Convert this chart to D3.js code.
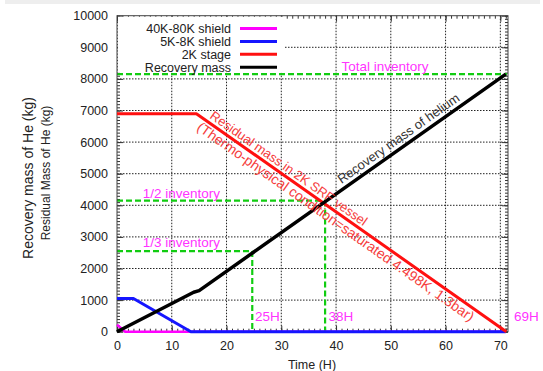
<!DOCTYPE html>
<html>
<head>
<meta charset="utf-8">
<script src="https://cdn.jsdelivr.net/npm/d3@7"></script>
<style>
  body { margin: 0; background: #fff; }
  svg { display: block; font-family: "Liberation Sans", Arial, sans-serif; }
</style>
</head>
<body>
<div id="chart"></div>
<script>
// --- data ---
const seriesNames = ["40K-80K shield", "5K-8K shield", "2K stage", "Recovery mass"];
const seriesColors = ["#ff00ff", "#1515ff", "#ff1010", "#000000"];

const shieldTime = [0, 1.5, 71];
const shieldMass = [220, 0, 0];
const lowShieldTime = [0, 3, 13.5, 71];
const lowShieldMass = [1050, 1050, 0, 0];
const stageTime = [0, 14.5, 71.1];
const stageMass = [6900, 6900, 0];
const recoveryTime = [0, 14, 15, 71];
const recoveryMass = [0, 1250, 1300, 8150];

const totalInventory = 8150;
const halfInventory = 4150;
const halfTime = 38;
const thirdInventory = 2550;
const thirdTime = 24.7;

const xTicks = [0, 10, 20, 30, 40, 50, 60, 70];
const yTicks = [0, 1000, 2000, 3000, 4000, 5000, 6000, 7000, 8000, 9000, 10000];

// --- layout ---
const width = 543, height = 371;
const plotLeft = 117, plotRight = 508, plotTop = 15.7, plotBottom = 331.7;

const svg = d3.select("#chart").append("svg")
  .attr("width", width).attr("height", height);

// grey strip at top of the screenshot
svg.append("rect").attr("x", 5).attr("y", 0).attr("width", 535).attr("height", 4).attr("fill", "#eeeeee");

const x = d3.scaleLinear().domain([0, 71.4]).range([plotLeft, plotRight]);
const y = d3.scaleLinear().domain([0, 10000]).range([plotBottom, plotTop]);

// grid
const grid = svg.append("g").attr("stroke", "#222").attr("stroke-width", 1).attr("stroke-dasharray", "1.5,1.5");
grid.selectAll(".gx").data(xTicks.slice(1)).enter().append("line")
  .attr("x1", d => x(d)).attr("x2", d => x(d)).attr("y1", plotTop).attr("y2", plotBottom);
grid.selectAll(".gy").data(yTicks.slice(1, -1)).enter().append("line")
  .attr("y1", d => y(d)).attr("y2", d => y(d)).attr("x1", plotLeft).attr("x2", plotRight);

// axes (ticks inward on all four sides)
function styleAxis(g) {
  g.select(".domain").remove();
  g.selectAll("line").attr("stroke", "#333");
  g.selectAll("text").attr("fill", "#222").style("font-size", "12.5px")
    .style("font-family", "'Liberation Sans', Arial, sans-serif");
}
const minorX = d3.range(0, 72, 1);
const minorY = d3.range(0, 10001, 100);
const fmt = d3.format("d");

svg.append("g").attr("transform", `translate(0,${plotBottom})`)
  .call(d3.axisBottom(x).tickValues(xTicks).tickFormat(fmt).tickSize(-6).tickPadding(9)).call(styleAxis);
svg.append("g").attr("transform", `translate(0,${plotBottom})`)
  .call(d3.axisBottom(x).tickValues(minorX).tickSize(-3).tickFormat("")).call(styleAxis);
svg.append("g").attr("transform", `translate(0,${plotTop})`)
  .call(d3.axisTop(x).tickValues(xTicks).tickSize(-6).tickFormat("")).call(styleAxis);
svg.append("g").attr("transform", `translate(0,${plotTop})`)
  .call(d3.axisTop(x).tickValues(minorX).tickSize(-3).tickFormat("")).call(styleAxis);
svg.append("g").attr("transform", `translate(${plotLeft},0)`)
  .call(d3.axisLeft(y).tickValues(yTicks).tickFormat(fmt).tickSize(-6).tickPadding(9)).call(styleAxis);
svg.append("g").attr("transform", `translate(${plotLeft},0)`)
  .call(d3.axisLeft(y).tickValues(minorY).tickSize(-3).tickFormat("")).call(styleAxis);
svg.append("g").attr("transform", `translate(${plotRight},0)`)
  .call(d3.axisRight(y).tickValues(yTicks).tickSize(-6).tickFormat("")).call(styleAxis);
svg.append("g").attr("transform", `translate(${plotRight},0)`)
  .call(d3.axisRight(y).tickValues(minorY).tickSize(-3).tickFormat("")).call(styleAxis);

// legend box (opaque, hides grid)
svg.append("rect").attr("x", plotLeft + 1).attr("y", plotTop + 1).attr("width", 167).attr("height", 56).attr("fill", "#fff");

// green guide lines
const green = svg.append("g").attr("stroke", "#11cc11").attr("stroke-width", 2.2)
  .attr("stroke-dasharray", "6,3").attr("fill", "none");
green.append("line").attr("x1", x(0)).attr("x2", x(71.2)).attr("y1", y(totalInventory)).attr("y2", y(totalInventory));
green.append("line").attr("x1", x(0)).attr("x2", x(halfTime)).attr("y1", y(halfInventory)).attr("y2", y(halfInventory));
green.append("line").attr("x1", x(halfTime)).attr("x2", x(halfTime)).attr("y1", y(halfInventory)).attr("y2", y(0));
green.append("line").attr("x1", x(0)).attr("x2", x(thirdTime)).attr("y1", y(thirdInventory)).attr("y2", y(thirdInventory));
green.append("line").attr("x1", x(thirdTime)).attr("x2", x(thirdTime)).attr("y1", y(thirdInventory)).attr("y2", y(0));

// frame
svg.append("rect").attr("x", plotLeft).attr("y", plotTop).attr("width", plotRight - plotLeft).attr("height", plotBottom - plotTop)
  .attr("fill", "none").attr("stroke", "#444").attr("stroke-width", 1);

// series
const series = [
  { t: shieldTime, m: shieldMass, w: 2.5 },
  { t: lowShieldTime, m: lowShieldMass, w: 3 },
  { t: stageTime, m: stageMass, w: 3 },
  { t: recoveryTime, m: recoveryMass, w: 3.5 }
];
const line = d3.line().x(d => x(d[0])).y(d => y(d[1]));
series.forEach((s, i) => {
  svg.append("path")
    .datum(d3.zip(s.t, s.m))
    .attr("d", line)
    .attr("fill", "none")
    .attr("stroke", seriesColors[i])
    .attr("stroke-width", s.w)
    .attr("stroke-linejoin", "round");
});

// legend
const legend = svg.append("g");
seriesNames.forEach((name, i) => {
  const cy = 28.5 + i * 12.9;
  legend.append("text").attr("x", 231).attr("y", cy + 4.3).attr("text-anchor", "end")
    .style("font-size", "12.5px").attr("fill", "#222").text(name);
  legend.append("line").attr("x1", 240).attr("x2", 277).attr("y1", cy).attr("y2", cy)
    .attr("stroke", seriesColors[i]).attr("stroke-width", 3);
});

// magenta annotations
const pink = "#ff33ff";
function note(txt, xx, yy, dy) {
  svg.append("text").attr("x", x(xx)).attr("y", y(yy) + dy)
    .attr("fill", pink).style("font-size", "13.5px").text(txt);
}
note("Total inventory", 41, totalInventory, -3);
note("1/2 inventory", 4.7, halfInventory, -3);
note("1/3 inventory", 4.7, thirdInventory, -4);
note("25H", thirdTime + 0.5, 0, -11);
note("38H", halfTime + 0.6, 0, -11);
note("69H", 72.5, 0, -11);

// angled labels along the lines
function slopeAngle(tArr, mArr, a, b) {
  const dx = x(tArr[b]) - x(tArr[a]);
  const dy = y(mArr[b]) - y(mArr[a]);
  return Math.atan2(dy, dx) * 180 / Math.PI;
}
function along(txt, tArr, mArr, a, b, t0, dy, color, size) {
  const ang = slopeAngle(tArr, mArr, a, b);
  const m0 = mArr[a] + (mArr[b] - mArr[a]) * (t0 - tArr[a]) / (tArr[b] - tArr[a]);
  svg.append("text")
    .attr("transform", `translate(${x(t0)},${y(m0)}) rotate(${ang})`)
    .attr("dy", dy)
    .attr("fill", color).style("font-size", size).text(txt);
}
along("Recovery mass of helium", recoveryTime, recoveryMass, 2, 3, 41.5, -5, "#333", "13px");
along("Residual mass in 2K SRF vessel", stageTime, stageMass, 1, 2, 16.4, -4, "#f53c3c", "13px");
along("(Thermo-physical condition=saturated 4.498K, 1.3bar)", stageTime, stageMass, 1, 2, 15.8, 13, "#f53c3c", "14px");

// axis titles
svg.append("text").attr("x", 312).attr("y", 369).attr("text-anchor", "middle")
  .style("font-size", "12.5px").attr("fill", "#222").text("Time (H)");
svg.append("text").attr("transform", "translate(33,178) rotate(-90)").attr("text-anchor", "middle")
  .style("font-size", "14px").attr("fill", "#222").text("Recovery mass of He (kg)");
svg.append("text").attr("transform", "translate(50,173) rotate(-90)").attr("text-anchor", "middle")
  .style("font-size", "12px").attr("fill", "#222").text("Residual Mass of He (kg)");
</script>
</body>
</html>
